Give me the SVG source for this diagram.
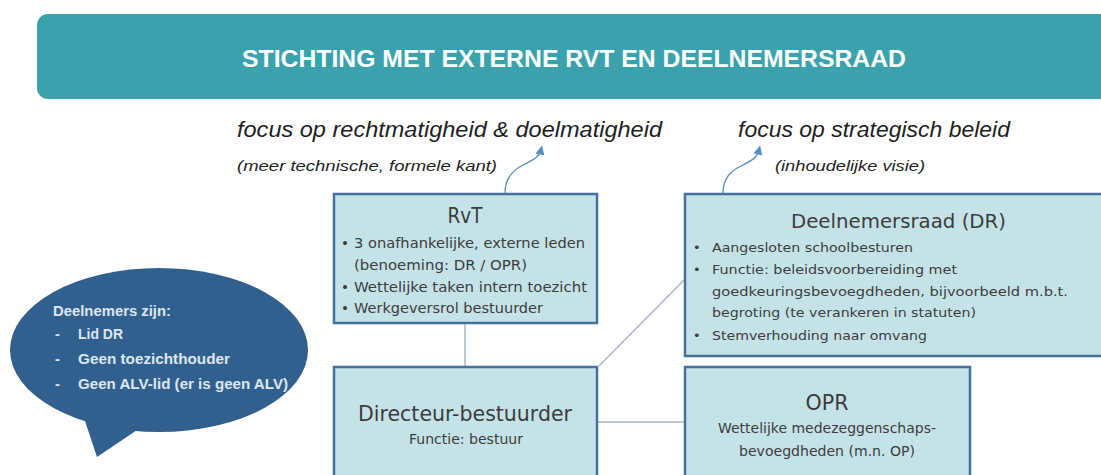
<svg xmlns="http://www.w3.org/2000/svg" width="1101" height="475" viewBox="0 0 1101 475">
<defs>
<style>
.box{fill:#c4e3e9;stroke:#46709e;stroke-width:2.5}
.t{font-family:"DejaVu Sans","Liberation Sans",sans-serif;fill:#3c3c3c}
.cal{font-family:"Liberation Sans","Open Sans",sans-serif}
.foc{font-family:"Liberation Sans","Open Sans",sans-serif;font-style:italic;fill:#1e1e1e}
.bub{font-family:"Liberation Sans","Open Sans",sans-serif;font-weight:bold;fill:#dde7f1;font-size:14.5px}
.conn{stroke:#a9b6c6;stroke-width:1.5;fill:none}
.arr{stroke:#5b8ec4;stroke-width:1.3;fill:none}
</style>
<marker id="ah" viewBox="0 0 10 10" refX="5" refY="5" markerWidth="7" markerHeight="7" orient="auto">
<path d="M0,0 L10,5 L0,10 z" fill="#5b8ec4"/>
</marker>
</defs>
<rect width="1101" height="475" fill="#ffffff"/>

<g id="header">
<rect x="37" y="14" width="1100" height="85" rx="11" fill="#3ba2ad"/>
<text class="cal" x="242" y="67" font-size="24" font-weight="bold" fill="#ffffff" textLength="664" lengthAdjust="spacingAndGlyphs">STICHTING MET EXTERNE RVT EN DEELNEMERSRAAD</text>
</g>

<g id="focus-left">
<text class="foc" x="237" y="137" font-size="22" textLength="425" lengthAdjust="spacingAndGlyphs">focus op rechtmatigheid &amp; doelmatigheid</text>
<text class="foc" x="237" y="171" font-size="15.5" textLength="260" lengthAdjust="spacingAndGlyphs">(meer technische, formele kant)</text>
</g>
<g id="focus-right">
<text class="foc" x="738" y="137" font-size="22" textLength="272" lengthAdjust="spacingAndGlyphs">focus op strategisch beleid</text>
<text class="foc" x="775" y="171" font-size="15.5" textLength="150" lengthAdjust="spacingAndGlyphs">(inhoudelijke visie)</text>
</g>

<g id="connectors">
<line class="conn" x1="465" y1="323" x2="465" y2="367"/>
<line class="conn" x1="599" y1="366" x2="685" y2="279"/>
<line class="conn" x1="597" y1="422" x2="685" y2="422"/>
<path class="arr" d="M505,193 C505,178 513,170 523,165 C533,160 539,158 541,150" marker-end="url(#ah)"/>
<path class="arr" d="M723,193 C723,178 731,171 741,166 C751,161 757,158 759,150" marker-end="url(#ah)"/>
</g>

<g id="bubble">
<ellipse cx="159" cy="350" rx="149" ry="82" fill="#31608f"/>
<polygon points="84,418 97,457 140,428" fill="#31608f"/>
<text class="bub" x="53" y="316" textLength="118" lengthAdjust="spacingAndGlyphs">Deelnemers zijn:</text>
<text class="bub" x="55" y="339">-</text>
<text class="bub" x="78" y="339" textLength="45" lengthAdjust="spacingAndGlyphs">Lid DR</text>
<text class="bub" x="55" y="364">-</text>
<text class="bub" x="78" y="364" textLength="152" lengthAdjust="spacingAndGlyphs">Geen toezichthouder</text>
<text class="bub" x="55" y="389">-</text>
<text class="bub" x="78" y="389" textLength="210" lengthAdjust="spacingAndGlyphs">Geen ALV-lid (er is geen ALV)</text>
</g>

<g id="rvt">
<rect class="box" x="334" y="194" width="263" height="129"/>
<text class="t" x="465" y="223" font-size="21" text-anchor="middle" textLength="35" lengthAdjust="spacingAndGlyphs">RvT</text>
<g font-size="13.5" class="t">
<text class="t" x="341" y="248">•</text>
<text class="t" x="354" y="248" textLength="231" lengthAdjust="spacingAndGlyphs">3 onafhankelijke, externe leden</text>
<text class="t" x="354" y="270" textLength="173" lengthAdjust="spacingAndGlyphs">(benoeming: DR / OPR)</text>
<text class="t" x="341" y="292">•</text>
<text class="t" x="354" y="292" textLength="233" lengthAdjust="spacingAndGlyphs">Wettelijke taken intern toezicht</text>
<text class="t" x="341" y="313">•</text>
<text class="t" x="354" y="313" textLength="189" lengthAdjust="spacingAndGlyphs">Werkgeversrol bestuurder</text>
</g>
</g>

<g id="dr">
<rect class="box" x="685" y="194" width="430" height="162"/>
<text class="t" x="791" y="228" font-size="20" textLength="215" lengthAdjust="spacingAndGlyphs">Deelnemersraad (DR)</text>
<g font-size="13" class="t">
<text class="t" x="693" y="252">•</text>
<text class="t" x="712" y="252" textLength="201" lengthAdjust="spacingAndGlyphs">Aangesloten schoolbesturen</text>
<text class="t" x="693" y="274">•</text>
<text class="t" x="712" y="274" textLength="245" lengthAdjust="spacingAndGlyphs">Functie: beleidsvoorbereiding met</text>
<text class="t" x="712" y="296" textLength="356" lengthAdjust="spacingAndGlyphs">goedkeuringsbevoegdheden, bijvoorbeeld m.b.t.</text>
<text class="t" x="712" y="317" textLength="264" lengthAdjust="spacingAndGlyphs">begroting (te verankeren in statuten)</text>
<text class="t" x="693" y="340">•</text>
<text class="t" x="712" y="340" textLength="215" lengthAdjust="spacingAndGlyphs">Stemverhouding naar omvang</text>
</g>
</g>

<g id="directeur">
<rect class="box" x="334" y="367" width="263" height="130"/>
<text class="t" x="465" y="421" font-size="21" text-anchor="middle" textLength="214" lengthAdjust="spacingAndGlyphs">Directeur-bestuurder</text>
<text class="t" x="466" y="444" font-size="13.5" text-anchor="middle" textLength="114" lengthAdjust="spacingAndGlyphs">Functie: bestuur</text>
</g>

<g id="opr">
<rect class="box" x="685" y="367" width="285" height="130"/>
<text class="t" x="827" y="410" font-size="21" text-anchor="middle" textLength="43" lengthAdjust="spacingAndGlyphs">OPR</text>
<text class="t" x="827" y="433" font-size="13.5" text-anchor="middle" textLength="218" lengthAdjust="spacingAndGlyphs">Wettelijke medezeggenschaps-</text>
<text class="t" x="827" y="456" font-size="13.5" text-anchor="middle" textLength="176" lengthAdjust="spacingAndGlyphs">bevoegdheden (m.n. OP)</text>
</g>
</svg>
